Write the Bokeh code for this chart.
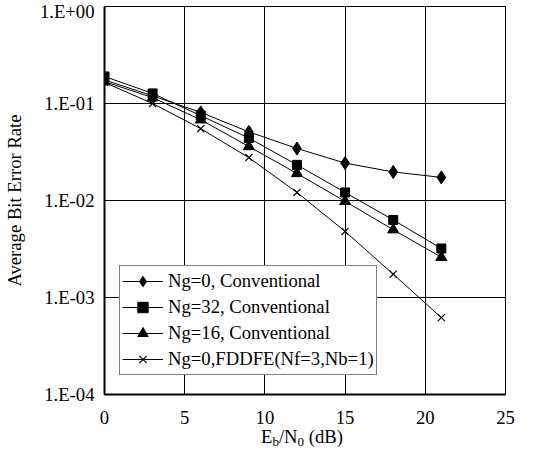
from bokeh.plotting import figure
from bokeh.models import FixedTicker, CustomJSTickFormatter, Range1d, Legend, Div
from bokeh.layouts import column
from bokeh.embed import file_html
from bokeh.resources import INLINE

ebn0 = [0, 3, 6, 9, 12, 15, 18, 21]
ber_ng0_conv = [0.175, 0.12, 0.081, 0.051, 0.0344, 0.0243, 0.0197, 0.0173]
ber_ng32_conv = [0.19, 0.127, 0.075, 0.044, 0.0233, 0.0121, 0.0063, 0.0032]
ber_ng16_conv = [0.168, 0.115, 0.068, 0.036, 0.019, 0.0098, 0.005, 0.0026]
ber_ng0_fddfe = [0.165, 0.1, 0.055, 0.0277, 0.0121, 0.0048, 0.00174, 0.00062]
labels = ["Ng=0, Conventional", "Ng=32, Conventional", "Ng=16, Conventional", "Ng=0,FDDFE(Nf=3,Nb=1)"]
x_ticks = [0, 5, 10, 15, 20, 25]
y_ticks = [1e-4, 1e-3, 1e-2, 1e-1, 1]
x_title_html = "E<sub>b</sub>/N<sub>0</sub> (dB)"

FONT = "Liberation Serif"
FS = "14pt"
W = 518

p = figure(width=W, height=432, output_backend="svg", toolbar_location=None,
           y_axis_type="log", x_range=Range1d(0, 25), y_range=Range1d(1e-4, 1),
           min_border_left=0, min_border_right=13, min_border_top=6, min_border_bottom=38)

p.outline_line_color = "black"
p.outline_line_width = 1
for g in (p.xgrid, p.ygrid):
    g.grid_line_color = "black"
    g.grid_line_width = 1
p.xgrid.ticker = FixedTicker(ticks=x_ticks)
p.ygrid.ticker = FixedTicker(ticks=y_ticks)

p.xaxis.ticker = FixedTicker(ticks=x_ticks)
p.yaxis.ticker = FixedTicker(ticks=y_ticks)
p.yaxis.formatter = CustomJSTickFormatter(code="""
const e = Math.round(Math.log10(tick));
return "1.E" + (e < 0 ? "-" : "+") + String(Math.abs(e)).padStart(2, "0");
""")
for ax in (p.xaxis, p.yaxis):
    ax.major_tick_in = 0
    ax.major_tick_out = 0
    ax.minor_tick_line_color = None
    ax.axis_line_color = "black"
    ax.axis_line_width = 2
    ax.major_label_text_font = FONT
    ax.major_label_text_font_size = FS
    ax.major_label_text_color = "black"
p.xaxis.major_label_standoff = 16
p.yaxis.major_label_standoff = 10
p.yaxis.axis_label = "Average Bit Error Rate"
p.yaxis.axis_label_text_font = FONT
p.yaxis.axis_label_text_font_style = "normal"
p.yaxis.axis_label_text_font_size = FS
p.yaxis.axis_label_text_color = "black"
p.yaxis.axis_label_standoff = 12

series = [ber_ng0_conv, ber_ng32_conv, ber_ng16_conv, ber_ng0_fddfe]
markers = ["diamond", "square", "triangle", "x"]
sizes = [13, 9, 11, 10]
items = []
for ys, m, s, lab in zip(series, markers, sizes, labels):
    r1 = p.line(ebn0, ys, line_color="black", line_width=1)
    if m == "x":
        r2 = p.scatter(ebn0, ys, marker=m, size=s, line_color="black", line_width=1.2)
    else:
        r2 = p.scatter(ebn0, ys, marker=m, size=s, fill_color="black", line_color="black")
    items.append((lab, [r1, r2]))

legend = Legend(items=items, location=(15, 19), border_line_color="black", border_line_width=1,
                background_fill_color="white", background_fill_alpha=1,
                label_text_font=FONT, label_text_font_size=FS, label_text_color="black",
                glyph_width=41, glyph_height=26, label_height=26, label_standoff=5,
                spacing=0, padding=2, margin=0)
p.add_layout(legend, "center")

# x-axis title with real subscripts
xtitle = Div(text=x_title_html, width=120, height=20, margin=(-4, 0, 0, 261),
             styles={"font-family": "'Liberation Serif', serif", "font-size": "14pt",
                     "line-height": "1", "color": "black", "white-space": "nowrap"},
             stylesheets=["sub { font-size: 70%; vertical-align: -0.25em; line-height: 0; }"])

layout = column(p, xtitle, spacing=0)
open("out.html", "w").write(file_html(layout, INLINE))
